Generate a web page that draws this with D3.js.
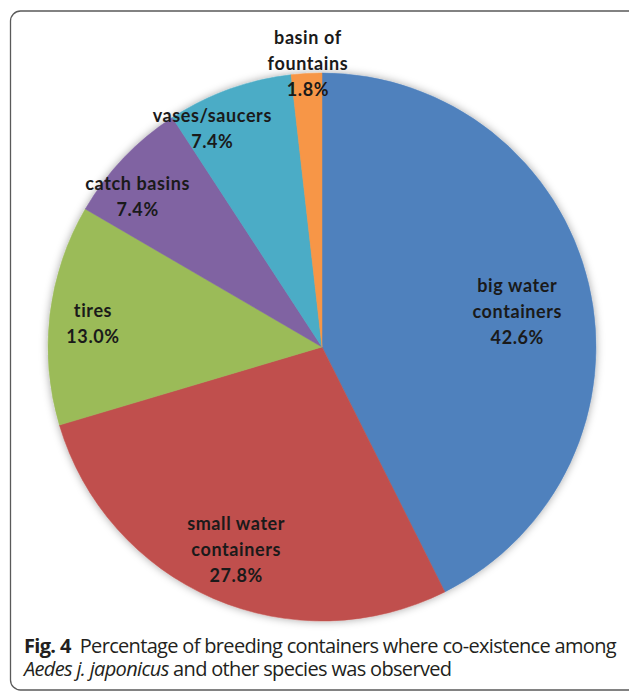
<!DOCTYPE html>
<html>
<head>
<meta charset="utf-8">
<script src="https://cdn.jsdelivr.net/npm/d3@7"></script>
<style>
body { margin: 0; background: #fff; }
</style>
</head>
<body>
<div id="chart"></div>
<script>
// DATA
var categories = ["big water\ncontainers", "small water\ncontainers", "tires", "catch basins", "vases/saucers", "basin of\nfountains"];
var values = [42.6, 27.8, 13.0, 7.4, 7.4, 1.8];
var colors = ["#4F81BD", "#C0504D", "#9BBB59", "#8064A2", "#4BACC6", "#F79646"];
var captionLines = [
	[{text: "Fig. 4", weight: "bold"}, {text: "\u00a0\u00a0Percentage of breeding containers where co-existence among"}],
	[{text: "Aedes j. japonicus", style: "italic"}, {text: " and other species was observed"}]
];

// LAYOUT
var width = 629, height = 693;
var cx = 322, cy = 347, radius = 274;
var labelRadius = [0.724, 0.805, 0.84, 0.868, 0.891, 1.037]; // fraction of radius
var labelShift = [3.2, -0.5, -1.1, -4.4, -6.9, 0.4];          // degrees off the slice middle
var lineGap = 26;

var svg = d3.select("#chart").append("svg")
	.attr("width", width)
	.attr("height", height);

var defs = svg.append("defs");
var shadow = defs.append("filter")
	.attr("id", "pieShadow")
	.attr("x", "-10%").attr("y", "-10%")
	.attr("width", "120%").attr("height", "120%");
shadow.append("feDropShadow")
	.attr("dx", 0).attr("dy", 0)
	.attr("stdDeviation", 4)
	.attr("flood-color", "#000")
	.attr("flood-opacity", 0.35);

// frame round the figure, runs off the right and bottom edges
svg.append("rect")
	.attr("x", 10.5).attr("y", 11)
	.attr("width", 640).attr("height", 679)
	.attr("rx", 10).attr("ry", 10)
	.attr("fill", "none")
	.attr("stroke", "#5a5a5a")
	.attr("stroke-width", 1.3);

var pie = d3.pie().sort(null).value(function(d) { return d; });
var arcs = pie(values);
var arc = d3.arc().innerRadius(0).outerRadius(radius);

var g = svg.append("g")
	.attr("transform", "translate(" + cx + "," + cy + ")");

g.append("g")
	.attr("filter", "url(#pieShadow)")
	.selectAll("path")
	.data(arcs)
	.enter()
	.append("path")
	.attr("d", arc)
	.attr("fill", function(d, i) { return colors[i]; })
	.attr("stroke", function(d, i) { return colors[i]; })
	.attr("stroke-width", 0.5);

// LABELS
var labels = g.selectAll("text.label")
	.data(arcs)
	.enter()
	.append("text")
	.attr("class", "label")
	.attr("text-anchor", "middle")
	.style("font-family", "Lato, 'Open Sans', sans-serif")
	.style("font-weight", "bold")
	.style("font-size", "18px")
	.style("letter-spacing", "0.6px")
	.style("fill", "#1a1a1a")
	.attr("transform", function(d, i) {
		var a = (d.startAngle + d.endAngle) / 2 + labelShift[i] * Math.PI / 180;
		var r = radius * labelRadius[i];
		return "translate(" + (Math.sin(a) * r) + "," + (-Math.cos(a) * r) + ")";
	});

labels.each(function(d, i) {
	var lines = categories[i].split("\n").concat([d3.format(".1f")(values[i]) + "%"]);
	var n = lines.length;
	d3.select(this).selectAll("tspan")
		.data(lines)
		.enter()
		.append("tspan")
		.attr("x", 0)
		.attr("y", function(t, j) { return (j - (n - 1) / 2) * lineGap; })
		.attr("dy", "0.35em")
		.text(function(t) { return t; });
});

// CAPTION
// the original face is condensed, so the letters are pulled together
// until the first line spans the same width
var capFont = "'Open Sans', 'Noto Sans', sans-serif";
var capX = 24, capY = [653, 676], capWidth = 592;
var tracking = null;

captionLines.forEach(function(parts, li) {
	var t = svg.append("text")
		.attr("x", capX)
		.attr("y", capY[li])
		.style("font-family", capFont)
		.style("font-size", "20px")
		.style("fill", "#231f20");
	parts.forEach(function(p) {
		t.append("tspan")
			.style("font-weight", p.weight || "normal")
			.style("font-style", p.style || "normal")
			.text(p.text);
	});
	if (tracking === null) {
		var nChars = d3.sum(parts, function(p) { return p.text.length; });
		tracking = (capWidth - t.node().getComputedTextLength()) / nChars;
	}
	t.style("letter-spacing", tracking + "px");
});
</script>
</body>
</html>
